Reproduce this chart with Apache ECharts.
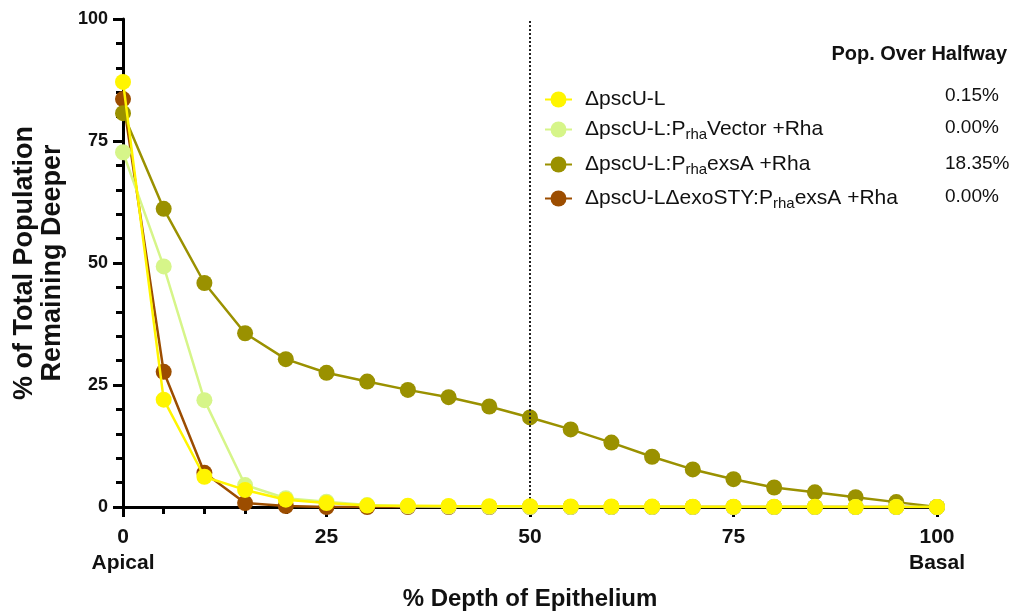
<!DOCTYPE html>
<html>
<head>
<meta charset="utf-8">
<script src="https://cdn.jsdelivr.net/npm/echarts@6/dist/echarts.min.js"></script>
<style>html,body{margin:0;padding:0;background:#fff;}#c{width:1012px;height:616px;}</style>
</head>
<body>
<div id="c"></div>
<script>
var depth = [0,5,10,15,20,25,30,35,40,45,50,55,60,65,70,75,80,85,90,95,100];
var pscU = [87.1,22.0,6.2,3.5,1.5,0.8,0.3,0.25,0.2,0.17,0.15,0.12,0.1,0.08,0.06,0.05,0.04,0.03,0.02,0.01,0];
var pscUVector = [72.7,49.3,21.9,4.5,1.8,1.1,0.4,0.15,0.08,0.03,0,0,0,0,0,0,0,0,0,0,0];
var pscUExsA = [80.7,61.1,45.9,35.6,30.3,27.5,25.7,24.0,22.5,20.6,18.35,15.9,13.2,10.3,7.7,5.7,4.0,3.0,2.0,1.0,0];
var exoSTYExsA = [83.6,27.7,7.0,0.8,0.2,0,0,0,0,0,0,0,0,0,0,0,0,0,0,0,0];
var seriesNames = ['ΔpscU-L','ΔpscU-L:PrhaVector +Rha','ΔpscU-L:PrhaexsA +Rha','ΔpscU-LΔexoSTY:PrhaexsA +Rha'];
var halfwayValues = ['0.15%','0.00%','18.35%','0.00%'];
var xTicks = [0,25,50,75,100];
var yTicks = [0,25,50,75,100];
var xEndLabels = {0:'Apical',100:'Basal'};
var halfwayMark = 50;

var colors = ['#FFF500','#D6F589','#9A9100','#9C4D00'];
var FONT = '"Liberation Sans", Arial, sans-serif';

function pairs(vals){ return depth.map(function(d,i){ return [d, vals[i]]; }); }
var allData = [pscU, pscUVector, pscUExsA, exoSTYExsA];

function fmtName(n){
  return n.replace('Prha','P{sub|rha}').replace(/^([^{]*)/, '{m|$1')
          .replace('{sub|rha}','}{sub|rha}{m|') + '}';
}

var legendTops = [84,114,149,183];
var legends = seriesNames.map(function(n,i){
  return {
    data:[n], left:539, top:legendTops[i], orient:'vertical',
    itemWidth:27, itemHeight:20, selectedMode:false,
    formatter: fmtName,
    textStyle:{ fontFamily:FONT, fontSize:21, color:'#111', padding:[0,0,0,8],
      rich:{
        m:{fontFamily:FONT,fontSize:21,color:'#111',lineHeight:26},
        sub:{fontFamily:FONT,fontSize:15,color:'#111',lineHeight:14,verticalAlign:'bottom'}
      }}
  };
});

var series = [];
[3,2,1,0].forEach(function(i){
  series.push({
    name: seriesNames[i], type:'line', data: pairs(allData[i]),
    symbol:'circle', symbolSize:16, showSymbol:true,
    itemStyle:{color:colors[i]}, lineStyle:{color:colors[i], width:2.5},
    z: 2 + (3-i)
  });
});
series.push({
  type:'line', data:[], silent:true,
  markLine:{ silent:true, symbol:['none','none'], label:{show:false},
    lineStyle:{type:'dotted', color:'#222', width:2},
    data:[{xAxis:halfwayMark}] }
});

var graphics = [{
  type:'text', right:5, top:44,
  style:{text:'Pop. Over Halfway', fontFamily:FONT, fontSize:20, fontWeight:'bold', fill:'#111'}
}];
var valTops = [86,118,154,187];
halfwayValues.forEach(function(v,i){
  graphics.push({type:'text', left:945, top:valTops[i],
    style:{text:v, fontFamily:FONT, fontSize:19, fill:'#111'}});
});

var chart = echarts.init(document.getElementById('c'));
chart.setOption({
  animation:false,
  backgroundColor:'#fff',
  grid:{left:123, right:75, top:19, bottom:101, containLabel:false},
  legend: legends,
  xAxis:{
    type:'value', min:0, max:100, interval:25,
    name:'% Depth of Epithelium', nameLocation:'middle', nameGap:80,
    nameTextStyle:{fontFamily:FONT, fontSize:24, fontWeight:'bold', color:'#111'},
    axisLine:{lineStyle:{color:'#000', width:3}},
    axisTick:{show:true, length:10, lineStyle:{color:'#000', width:3}},
    minorTick:{show:true, splitNumber:5, length:7, lineStyle:{color:'#000', width:3}},
    splitLine:{show:false},
    axisLabel:{margin:17, fontFamily:FONT, fontSize:21, fontWeight:'bold', color:'#111',
      lineHeight:26,
      formatter:function(v){ return xEndLabels[v] !== undefined ? v + '\n' + xEndLabels[v] : String(v); }}
  },
  yAxis:{
    type:'value', min:0, max:100, interval:25,
    name:'% of Total Population\nRemaining Deeper', nameLocation:'middle', nameGap:56, nameRotate:90,
    nameTextStyle:{fontFamily:FONT, fontSize:27, fontWeight:'bold', color:'#111', lineHeight:28},
    axisLine:{lineStyle:{color:'#000', width:3}},
    axisTick:{show:true, length:10, lineStyle:{color:'#000', width:3}},
    minorTick:{show:true, splitNumber:5, length:7, lineStyle:{color:'#000', width:3}},
    splitLine:{show:false},
    axisLabel:{margin:15, fontFamily:FONT, fontSize:18, fontWeight:'bold', color:'#111'}
  },
  graphic: graphics,
  series: series
});
</script>
</body>
</html>
